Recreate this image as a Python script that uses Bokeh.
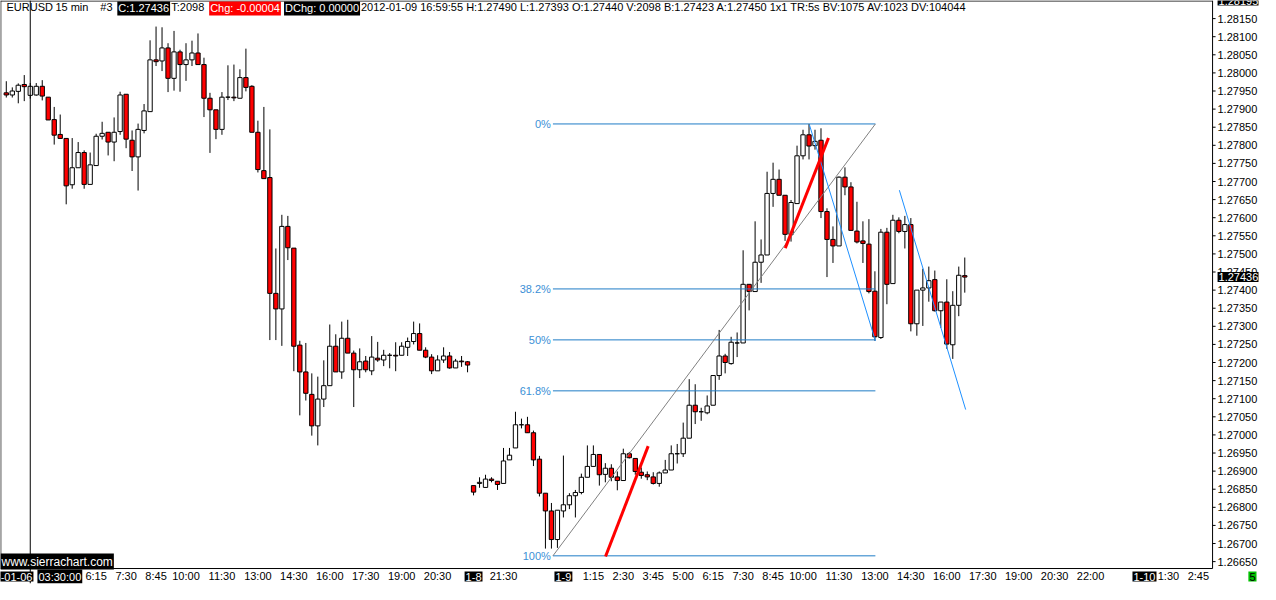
from bokeh.models import (ColumnDataSource, Range1d, FixedTicker, PrintfTickFormatter,
                          Label, Span)
from bokeh.plotting import figure
from bokeh.embed import file_html
from bokeh.resources import INLINE

# EURUSD 15 min bars, index 0 = 2012-01-06 02:30 (1-6: 0..77, 1-8: 78..92, 1-9: 93..160)
opens = [
    1.27945, 1.27939, 1.27949, 1.27968, 1.27938, 1.27939, 1.27963, 1.27933, 1.27871, 1.27830,
    1.27819, 1.27691, 1.27738, 1.27780, 1.27692, 1.27744, 1.27825, 1.27836, 1.27809, 1.27838,
    1.27941, 1.27814, 1.27768, 1.27841, 1.27893, 1.28036, 1.28033, 1.28069, 1.27985, 1.28058,
    1.28023, 1.28036, 1.28055, 1.28023, 1.27930, 1.27898, 1.27844, 1.27933, 1.27933, 1.27930,
    1.27987, 1.27963, 1.27836, 1.27730, 1.27711, 1.27391, 1.27348, 1.27576, 1.27516, 1.27248,
    1.27174, 1.27112, 1.27025, 1.27099, 1.27136, 1.27245, 1.27174, 1.27267, 1.27226, 1.27180,
    1.27204, 1.27177, 1.27212, 1.27207, 1.27220, 1.27220, 1.27220, 1.27242, 1.27258, 1.27280,
    1.27234, 1.27215, 1.27177, 1.27207, 1.27218, 1.27185, 1.27204, 1.27202,
    1.26860, 1.26866, 1.26855, 1.26878, 1.26872, 1.26866, 1.26931, 1.26964, 1.27028, 1.27028,
    1.27006, 1.26933, 1.26839, 1.26790, 1.26711,
    1.26790, 1.26807, 1.26832, 1.26841, 1.26883, 1.26913, 1.26946, 1.26891, 1.26908, 1.26884,
    1.26874, 1.26948, 1.26935, 1.26897, 1.26890, 1.26884, 1.26866, 1.26895, 1.26903, 1.26948,
    1.26948, 1.26991, 1.27082, 1.27064, 1.27061, 1.27082, 1.27164, 1.27218, 1.27197, 1.27254,
    1.27254, 1.27416, 1.27396, 1.27477, 1.27497, 1.27667, 1.27706, 1.27662, 1.27554, 1.27639,
    1.27771, 1.27829, 1.27799, 1.27814, 1.27617, 1.27540, 1.27522, 1.27712, 1.27685, 1.27563,
    1.27536, 1.27527, 1.27397, 1.27269, 1.27560, 1.27418, 1.27593, 1.27562, 1.27581, 1.27307,
    1.27400, 1.27406, 1.27429, 1.27343, 1.27367, 1.27249, 1.27358, 1.27440,
]
highs = [
    1.27977, 1.27960, 1.27971, 1.27994, 1.27972, 1.27972, 1.27980, 1.27933, 1.27906, 1.27885,
    1.27819, 1.27820, 1.27809, 1.27786, 1.27780, 1.27832, 1.27865, 1.27836, 1.27877, 1.27948,
    1.27941, 1.27841, 1.27860, 1.27914, 1.28090, 1.28128, 1.28126, 1.28082, 1.28116, 1.28064,
    1.28082, 1.28089, 1.28109, 1.28042, 1.27945, 1.27898, 1.27947, 1.28021, 1.28023, 1.28010,
    1.28067, 1.27966, 1.27868, 1.27906, 1.27844, 1.27515, 1.27608, 1.27605, 1.27516, 1.27260,
    1.27254, 1.27170, 1.27161, 1.27206, 1.27305, 1.27278, 1.27313, 1.27318, 1.27233, 1.27239,
    1.27218, 1.27273, 1.27257, 1.27235, 1.27226, 1.27256, 1.27256, 1.27269, 1.27313, 1.27308,
    1.27242, 1.27223, 1.27220, 1.27242, 1.27229, 1.27210, 1.27218, 1.27204,
    1.26860, 1.26883, 1.26890, 1.26883, 1.26872, 1.26964, 1.26964, 1.27064, 1.27045, 1.27050,
    1.27012, 1.26942, 1.26839, 1.26812, 1.26792,
    1.26943, 1.26839, 1.26848, 1.26893, 1.26971, 1.26971, 1.26946, 1.26922, 1.26919, 1.26899,
    1.26962, 1.26953, 1.26935, 1.26910, 1.26899, 1.26897, 1.26899, 1.26931, 1.26971, 1.26975,
    1.27034, 1.27154, 1.27140, 1.27075, 1.27109, 1.27164, 1.27290, 1.27224, 1.27271, 1.27283,
    1.27510, 1.27416, 1.27590, 1.27540, 1.27727, 1.27752, 1.27733, 1.27662, 1.27649, 1.27799,
    1.27843, 1.27859, 1.27843, 1.27847, 1.27626, 1.27576, 1.27714, 1.27739, 1.27698, 1.27644,
    1.27590, 1.27596, 1.27452, 1.27569, 1.27572, 1.27608, 1.27601, 1.27605, 1.27599, 1.27400,
    1.27459, 1.27465, 1.27454, 1.27367, 1.27430, 1.27397, 1.27465, 1.27490,
]
lows = [
    1.27932, 1.27932, 1.27916, 1.27922, 1.27929, 1.27937, 1.27924, 1.27870, 1.27802, 1.27819,
    1.27637, 1.27680, 1.27738, 1.27680, 1.27692, 1.27744, 1.27816, 1.27772, 1.27756, 1.27829,
    1.27792, 1.27729, 1.27675, 1.27833, 1.27893, 1.28019, 1.28005, 1.27947, 1.27951, 1.27948,
    1.27978, 1.28019, 1.28023, 1.27878, 1.27779, 1.27817, 1.27829, 1.27925, 1.27922, 1.27930,
    1.27949, 1.27836, 1.27725, 1.27708, 1.27262, 1.27262, 1.27246, 1.27483, 1.27176, 1.27054,
    1.27095, 1.26998, 1.26971, 1.27077, 1.27136, 1.27174, 1.27155, 1.27226, 1.27077, 1.27157,
    1.27173, 1.27165, 1.27202, 1.27190, 1.27184, 1.27176, 1.27220, 1.27218, 1.27250, 1.27234,
    1.27212, 1.27168, 1.27177, 1.27199, 1.27183, 1.27185, 1.27188, 1.27173,
    1.26833, 1.26854, 1.26855, 1.26869, 1.26848, 1.26866, 1.26931, 1.26964, 1.27018, 1.27006,
    1.26914, 1.26830, 1.26686, 1.26686, 1.26688,
    1.26772, 1.26795, 1.26772, 1.26836, 1.26883, 1.26913, 1.26860, 1.26869, 1.26872, 1.26847,
    1.26874, 1.26935, 1.26890, 1.26879, 1.26875, 1.26863, 1.26857, 1.26895, 1.26903, 1.26921,
    1.26939, 1.26991, 1.27030, 1.27039, 1.27057, 1.27082, 1.27152, 1.27170, 1.27194, 1.27215,
    1.27254, 1.27344, 1.27396, 1.27420, 1.27497, 1.27630, 1.27662, 1.27536, 1.27534, 1.27639,
    1.27761, 1.27761, 1.27788, 1.27599, 1.27436, 1.27475, 1.27522, 1.27662, 1.27565, 1.27529,
    1.27475, 1.27391, 1.27260, 1.27265, 1.27361, 1.27418, 1.27557, 1.27515, 1.27286, 1.27274,
    1.27301, 1.27368, 1.27341, 1.27296, 1.27238, 1.27210, 1.27328, 1.27393,
]
closes = [
    1.27939, 1.27950, 1.27966, 1.27962, 1.27963, 1.27963, 1.27936, 1.27870, 1.27828, 1.27819,
    1.27688, 1.27738, 1.27780, 1.27692, 1.27746, 1.27825, 1.27833, 1.27809, 1.27836, 1.27939,
    1.27817, 1.27768, 1.27844, 1.27895, 1.28036, 1.28031, 1.28069, 1.27985, 1.28058, 1.28023,
    1.28036, 1.28055, 1.28023, 1.27930, 1.27898, 1.27844, 1.27933, 1.27933, 1.27931, 1.27987,
    1.27960, 1.27836, 1.27733, 1.27708, 1.27391, 1.27348, 1.27576, 1.27517, 1.27245, 1.27174,
    1.27115, 1.27025, 1.27099, 1.27136, 1.27245, 1.27174, 1.27267, 1.27226, 1.27180, 1.27202,
    1.27180, 1.27215, 1.27207, 1.27220, 1.27220, 1.27218, 1.27245, 1.27258, 1.27280, 1.27234,
    1.27215, 1.27177, 1.27207, 1.27218, 1.27185, 1.27204, 1.27202, 1.27193,
    1.26842, 1.26869, 1.26878, 1.26874, 1.26863, 1.26928, 1.26944, 1.27028, 1.27028, 1.27006,
    1.26931, 1.26839, 1.26790, 1.26711, 1.26792,
    1.26807, 1.26832, 1.26841, 1.26883, 1.26913, 1.26946, 1.26890, 1.26908, 1.26883, 1.26874,
    1.26948, 1.26937, 1.26899, 1.26888, 1.26884, 1.26866, 1.26895, 1.26903, 1.26948, 1.26948,
    1.26991, 1.27082, 1.27064, 1.27064, 1.27080, 1.27164, 1.27218, 1.27200, 1.27256, 1.27254,
    1.27416, 1.27396, 1.27477, 1.27497, 1.27667, 1.27706, 1.27662, 1.27554, 1.27642, 1.27771,
    1.27829, 1.27798, 1.27811, 1.27617, 1.27540, 1.27522, 1.27712, 1.27685, 1.27565, 1.27533,
    1.27529, 1.27396, 1.27271, 1.27560, 1.27416, 1.27593, 1.27562, 1.27581, 1.27307, 1.27400,
    1.27406, 1.27426, 1.27343, 1.27367, 1.27251, 1.27358, 1.27441, 1.27436,
]

# time axis labels (bar index -> text)
tick_pos = [15, 20, 25, 30, 36, 42, 48, 54, 60, 66, 72, 83,
            98, 103, 108, 113, 118, 123, 128, 133, 139, 145, 151, 157, 163, 169, 175, 181,
            194, 199]
tick_text = ["6:15", "7:30", "8:45", "10:00", "11:30", "13:00", "14:30", "16:00", "17:30",
             "19:00", "20:30", "21:30",
             "1:15", "2:30", "3:45", "5:00", "6:15", "7:30", "8:45", "10:00", "11:30", "13:00",
             "14:30", "16:00", "17:30", "19:00", "20:30", "22:00",
             "1:30", "2:45"]
date_pos = [78, 93, 190]
date_text = ["1-8", "1-9", "1-10"]
cursor_bar = 4

# price scale labels
price_ticks = [round(1.26650 + 0.0005 * i, 5) for i in range(31)]

# fibonacci retracement and drawn lines
fib_high = 1.27859
fib_low = 1.26666
fib_start, fib_end = 91.25, 145.08
fib_levels = [0, 38.2, 50, 61.8, 100]

red_x0 = [100.03, 130.03]
red_y0 = [1.26664, 1.27516]
red_x1 = [107.15, 137.25]
red_y1 = [1.26969, 1.27820]

blue_x0 = [134.08, 149.08]
blue_y0 = [1.27856, 1.27676]
blue_x1 = [145.08, 160.15]
blue_y1 = [1.27260, 1.27070]

last_price = 1.27436
scale_top = 1.28195

FONT = "Liberation Sans"
W, H = 1260, 584
PX_PER_BAR = 6.0
X0 = -0.967
X1 = X0 + W / PX_PER_BAR
Y1 = 1.28200
K = 2.7576e-5           # price per pixel
Y0 = Y1 - H * K
AXIS_PX = 1214          # x pixel of the price axis line
BASE_PX = 569           # y pixel of the time axis line


def fx(px):
    return X0 + px / PX_PER_BAR


def fy(py):
    return Y1 - py * K


src = ColumnDataSource(dict(
    x=list(range(len(opens))),
    h=highs, l=lows,
    top=[max(o, c) for o, c in zip(opens, closes)],
    bottom=[min(o, c) for o, c in zip(opens, closes)],
    fill=["white" if c >= o else "#ff0000" for o, c in zip(opens, closes)],
))

p = figure(width=W, height=H, x_range=Range1d(X0, X1), y_range=Range1d(Y0, Y1),
           output_backend="svg", toolbar_location=None, y_axis_location="right",
           min_border_left=0, min_border_right=0, min_border_top=0, min_border_bottom=0,
           background_fill_color="white", border_fill_color="white")
p.grid.visible = False
p.outline_line_color = None

# price axis: labels drawn back over the plot area so the frame spans the whole canvas
yax = p.yaxis[0]
yax.ticker = FixedTicker(ticks=price_ticks)
yax.formatter = PrintfTickFormatter(format="%.5f")
yax.major_tick_out = 0
yax.major_tick_in = 0
yax.minor_tick_line_color = None
yax.major_label_standoff = -(W - AXIS_PX - 5)
yax.major_label_text_font = FONT
yax.major_label_text_font_size = "11px"
yax.major_label_text_color = "black"
yax.axis_line_color = None

# time axis
xax = p.xaxis[0]
xax.ticker = FixedTicker(ticks=tick_pos)
xax.major_label_overrides = {t: s for t, s in zip(tick_pos, tick_text)}
xax.major_tick_out = 0
xax.major_tick_in = 0
xax.minor_tick_line_color = None
xax.major_label_standoff = -(H - BASE_PX - 1)
xax.major_label_text_font = FONT
xax.major_label_text_font_size = "11px"
xax.major_label_text_color = "black"
xax.axis_line_color = None

# chart borders, axis lines and price ticks
p.segment([X0 + 0.05, X0, fx(AXIS_PX), X0], [Y0 + (H - BASE_PX) * K, fy(0.5), fy(BASE_PX), fy(BASE_PX)],
          [X0 + 0.05, fx(AXIS_PX), fx(AXIS_PX), fx(AXIS_PX)], [Y1, fy(0.5), Y1, fy(BASE_PX)],
          line_color="black", line_width=1)
p.segment([fx(AXIS_PX)] * len(price_ticks), price_ticks,
          [fx(AXIS_PX + 3)] * len(price_ticks), price_ticks, line_color="black", line_width=1)

# candles
p.segment("x", "h", "x", "l", source=src, line_color="black", line_width=1)
p.vbar(x="x", top="top", bottom="bottom", width=0.72, fill_color="fill",
       line_color="black", line_width=1, source=src)

# fibonacci retracement
fib_prices = [fib_high - lv / 100 * (fib_high - fib_low) for lv in fib_levels]
p.segment([fib_start] * len(fib_prices), fib_prices, [fib_end] * len(fib_prices), fib_prices,
          line_color="#1f7cc6", line_width=1)
p.segment([fib_start], [fib_low], [fib_end], [fib_high], line_color="#808080", line_width=1)
for lv, pr in zip(fib_levels, fib_prices):
    txt = ("%g" % lv) + "%"
    p.add_layout(Label(x=fib_start - 0.35, y=pr, text=txt, text_align="right",
                       text_baseline="middle", text_font=FONT, text_font_size="11px",
                       text_color="#3b8fd6"))

p.segment(blue_x0, blue_y0, blue_x1, blue_y1, line_color="#1e90ff", line_width=1)
p.segment(red_x0, red_y0, red_x1, red_y1, line_color="#ff0000", line_width=3)

# cursor line
p.add_layout(Span(location=cursor_bar, dimension="height", line_color="black", line_width=1))


def box(x, y, text, bg=None, color="black", align="left", base="middle", size="11px"):
    lab = Label(x=x, y=y, text=text, text_align=align, text_baseline=base,
                text_font=FONT, text_font_size=size, text_color=color)
    if bg is not None:
        lab.background_fill_color = bg
        lab.padding = 1
    p.add_layout(lab)


# header line
hy = fy(1)
box(fx(6), hy, "EURUSD", base="top")
box(fx(55), hy, "15 min", base="top")
box(fx(100), hy, "#3", base="top")
box(fx(117), hy, "C:1.27436", bg="black", color="white", base="top")
box(fx(171), hy, "T:2098", base="top")
box(fx(209), hy, "Chg: -0.00004", bg="#ff0000", color="white", base="top")
box(fx(284), hy, "DChg: 0.00000", bg="black", color="white", base="top")
box(fx(361), hy,
    "2012-01-09 16:59:55 H:1.27490 L:1.27393 O:1.27440 V:2098 B:1.27423 A:1.27450 "
    "1x1 TR:5s BV:1075 AV:1023 DV:104044", base="top")

# price markers on the scale
box(fx(AXIS_PX + 5), last_price, "%.5f" % last_price, bg="black", color="white")
box(fx(AXIS_PX + 5), Y1, "%.5f" % scale_top, bg="black", color="white")

# bottom labels
row_y = fy(BASE_PX + 8)
box(X0, fy(BASE_PX + 1), "www.sierrachart.com", bg="black", color="white", base="bottom",
    size="12px")
box(fx(33), row_y, "2012-01-06", bg="black", color="white", align="right")
box(fx(37), row_y, "03:30:00", bg="black", color="white")
for dp, dt in zip(date_pos, date_text):
    box(dp, row_y, dt, bg="black", color="white", align="center")
box(fx(W - 2), row_y, "5", bg="#00c000", color="black", align="right")

open("out.html", "w").write(file_html(p, INLINE))
